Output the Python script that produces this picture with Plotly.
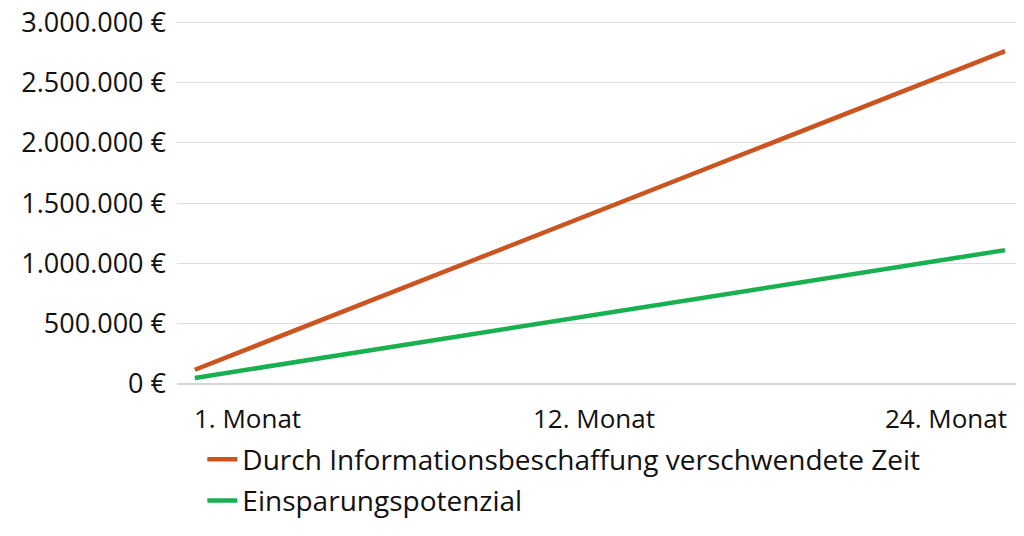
import plotly.graph_objects as go

# x categories (months) and tick labels
monate = ["1", "12", "24"]
monat_labels = ["1. Monat", "12. Monat", "24. Monat"]

# values in euro
verschwendet = [118000, 1435000, 2760000]
einsparung = [50000, 582000, 1110000]

serien_namen = ["Durch Informationsbeschaffung verschwendete Zeit", "Einsparungspotenzial"]
farben = ["#CB5420", "#19B050"]

y_ticks = [0, 500000, 1000000, 1500000, 2000000, 2500000, 3000000]
y_ticktext = [f"{v:,}".replace(",", ".") + " €" for v in y_ticks]

FONT = "Open Sans"

fig = go.Figure()
for i, (werte, name) in enumerate(zip([verschwendet, einsparung], serien_namen)):
    fig.add_trace(go.Scatter(
        x=monate, y=werte, name=name, mode="lines",
        line=dict(color=farben[i], width=4.5),
        legendgroup=str(i),
    ))

# x labels: first left aligned, middle centered, last right aligned
anchors = ["left", "center", "right"]
shifts = [-3, -6, 4]
for idx, (lab, anc, sh) in enumerate(zip(monat_labels, anchors, shifts)):
    fig.add_annotation(x=idx, y=0, xref="x", yref="paper", text=lab,
                       showarrow=False, xanchor=anc, yanchor="top",
                       yshift=-14, xshift=sh,
                       font=dict(family=FONT, size=26, color="#111111"))

fig.update_layout(
    width=1016, height=528,
    margin=dict(l=169, r=2, t=12.8, b=152),
    plot_bgcolor="white", paper_bgcolor="white",
    font=dict(family=FONT, size=27, color="#111111"),
    showlegend=True,
    legend=dict(x=0.03, y=-0.139, xanchor="left", yanchor="top",
                orientation="v", tracegroupgap=2,
                font=dict(family=FONT, size=28, color="#111111")),
)
fig.update_xaxes(type="category", range=[-0.044, 2.042], showticklabels=False,
                 showgrid=False, zeroline=False, showline=False, ticks="",
                 automargin=False)
fig.update_yaxes(range=[0, 3010000], tickvals=y_ticks, ticktext=y_ticktext,
                 ticklabeloverflow="allow", automargin=False,
                 showgrid=True, gridcolor="#dedede", gridwidth=1,
                 zeroline=True, zerolinecolor="#d4d4d4", zerolinewidth=2,
                 showline=False, ticks="", ticklabelstandoff=10)

fig.write_html("out.html")
